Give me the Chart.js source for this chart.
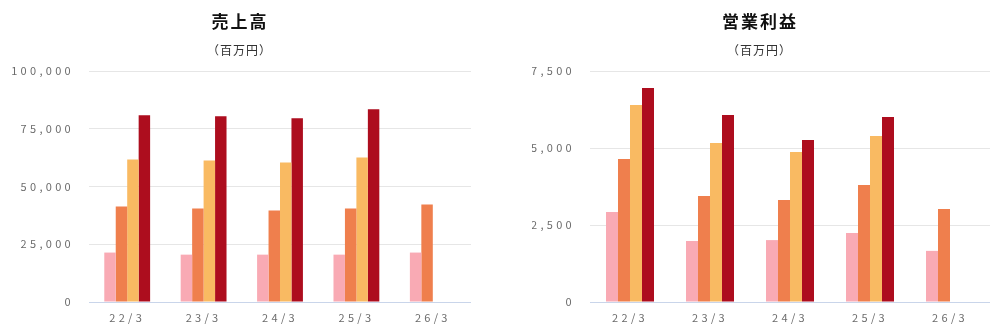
<!DOCTYPE html>
<html lang="ja">
<head>
<meta charset="utf-8">
<title>売上高・営業利益</title>
<script src="https://cdn.jsdelivr.net/npm/chart.js@4/dist/chart.umd.min.js"></script>
<style>
  html, body {
    margin: 0;
    padding: 0;
    background: #fff;
  }
  #wrap {
    position: relative;
    width: 994px;
    height: 327px;
    overflow: hidden;
  }
  .panel {
    position: absolute;
    top: 0;
    height: 327px;
  }
  .panel canvas {
    position: absolute;
    left: 0;
    top: 0;
  }
  .ttl, .sub {
    position: absolute;
    left: 0;
    right: 0;
    text-align: center;
    font-family: "Noto Sans CJK JP", "Noto Sans", sans-serif;
    white-space: nowrap;
    z-index: 2;
  }
  .ttl {
    top: 8px;
    font-size: 17px;
    line-height: 25px;
    font-weight: bold;
    color: #111;
    letter-spacing: 2px;
    padding-left: 2px;
  }
  .sub {
    top: 40px;
    font-size: 12px;
    line-height: 19px;
    color: #333;
    letter-spacing: 1px;
    padding-left: 1px;
  }
</style>
</head>
<body>
<div id="wrap">
  <div class="panel" style="left:0; width:478px;">
    <div class="ttl">売上高</div>
    <div class="sub">（百万円）</div>
    <canvas id="salesChart" width="478" height="327"></canvas>
  </div>
  <div class="panel" style="left:524px; width:470px;">
    <div class="ttl">営業利益</div>
    <div class="sub">（百万円）</div>
    <canvas id="profitChart" width="470" height="327"></canvas>
  </div>
</div>

<script>
// -----------------------------
// DATA
// -----------------------------
const categories = ["22/3", "23/3", "24/3", "25/3", "26/3"];
const quarterLabels = ["1Q", "2Q", "3Q", "4Q"];
const quarterColors = ["#f9aab4", "#ef7f4d", "#f9ba62", "#ad0d1e"];

// 売上高 (百万円), cumulative per quarter
const salesQ1 = [21400, 20500, 20500, 20500, 21400];
const salesQ2 = [41300, 40500, 39600, 40500, 42200];
const salesQ3 = [61700, 61300, 60400, 62600, null];
const salesQ4 = [80800, 80400, 79500, 83400, null];
const salesTicks = [0, 25000, 50000, 75000, 100000];

// 営業利益 (百万円), cumulative per quarter
const profitQ1 = [2920, 1980, 2010, 2240, 1660];
const profitQ2 = [4640, 3440, 3310, 3800, 3020];
const profitQ3 = [6400, 5160, 4870, 5390, null];
const profitQ4 = [6950, 6070, 5260, 6010, null];
const profitTicks = [0, 2500, 5000, 7500];


// -----------------------------
// HELPERS
// -----------------------------
const GRID_COLOR = "#e6e6e6";
const BASE_COLOR = "#c9d5ea";
const TICK_COLOR = "#6b6b6b";
const TICK_SPACING = "3.3px";
const TICK_FONT = { family: "'Noto Sans CJK JP', 'Noto Sans', sans-serif", size: 11 };

// wide tracking on the axis labels
const letterSpacingPlugin = {
    id: "letterSpacing",
    beforeLayout(chart) {
        chart.ctx.letterSpacing = TICK_SPACING;
    },
    beforeDraw(chart) {
        chart.ctx.letterSpacing = TICK_SPACING;
    }
};

function makeDatasets(seriesList) {
    return seriesList.map((values, i) => ({
        label: quarterLabels[i],
        data: values,
        backgroundColor: quarterColors[i],
        borderWidth: 0,
        categoryPercentage: 0.6,
        barPercentage: 1.0
    }));
}

function makeChart(canvasId, seriesList, ticks, padding, axisWidth, labelGap) {
    const ctx = document.getElementById(canvasId).getContext("2d");
    const maxTick = ticks[ticks.length - 1];

    return new Chart(ctx, {
        type: "bar",
        data: {
            labels: categories,
            datasets: makeDatasets(seriesList)
        },
        options: {
            responsive: false,
            animation: false,
            devicePixelRatio: 1,
            layout: { padding: padding },
            plugins: {
                legend: { display: false },
                tooltip: { enabled: false },
                title: { display: false }
            },
            scales: {
                x: {
                    grid: { display: false, drawTicks: false },
                    border: { display: false },
                    afterFit(scale) {
                        scale.height = 22;
                    },
                    ticks: {
                        padding: 9,
                        color: TICK_COLOR,
                        font: TICK_FONT
                    }
                },
                y: {
                    min: 0,
                    max: maxTick,
                    afterBuildTicks(scale) {
                        scale.ticks = ticks.map(v => ({ value: v }));
                    },
                    afterFit(scale) {
                        scale.width = axisWidth;
                    },
                    grid: {
                        drawTicks: false,
                        color: c => (c.tick && c.tick.value === 0 ? BASE_COLOR : GRID_COLOR),
                        lineWidth: 1
                    },
                    border: { display: false },
                    ticks: {
                        padding: labelGap,
                        color: TICK_COLOR,
                        font: TICK_FONT,
                        callback: v => v.toLocaleString("en-US")
                    }
                }
            }
        },
        plugins: [letterSpacingPlugin]
    });
}


// -----------------------------
// INIT CHARTS
// -----------------------------
makeChart("salesChart",
    [salesQ1, salesQ2, salesQ3, salesQ4],
    salesTicks,
    { top: 71, left: 12, right: 7, bottom: 3 },
    77, 15);

makeChart("profitChart",
    [profitQ1, profitQ2, profitQ3, profitQ4],
    profitTicks,
    { top: 71, left: 8, right: 4, bottom: 3 },
    58, 15);
</script>
</body>
</html>
